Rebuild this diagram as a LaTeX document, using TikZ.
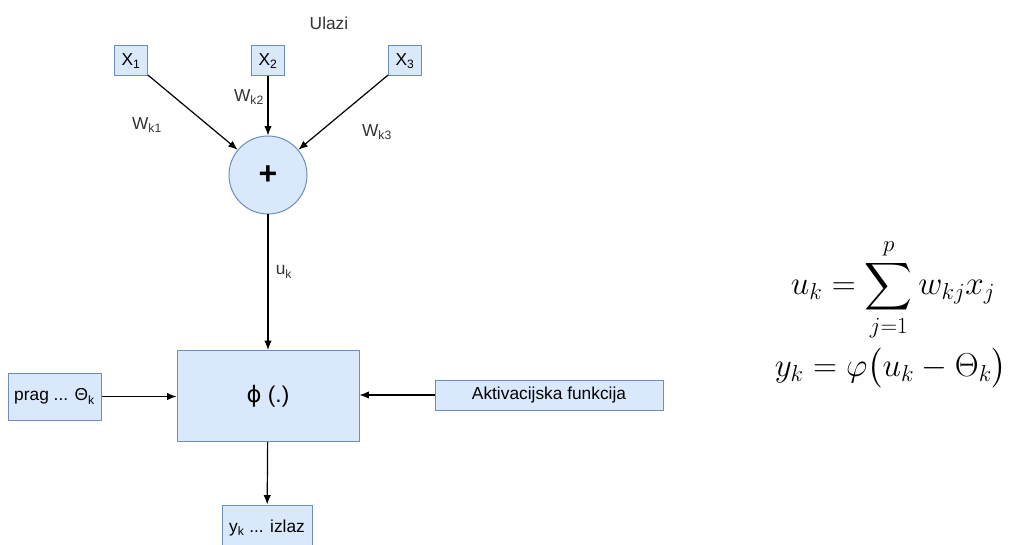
\documentclass[tikz,border=0pt]{standalone}
\usepackage{amsmath}
\usepackage{fontspec}
\setmainfont{Liberation Sans}
\newfontfamily\phifont{DejaVu Sans}
\usepackage{xcolor}
\usetikzlibrary{shapes.geometric, arrows.meta, calc, positioning}

\definecolor{boxfill}{HTML}{DAE8FC}
\definecolor{boxline}{HTML}{6C8EBF}

\begin{document}
\begin{tikzpicture}[
    x=0.75pt, y=-0.75pt,
    >={Latex[length=7pt,width=5.5pt]},
    font=\fontsize{13}{15}\selectfont,
    input/.style={rectangle, draw=boxline, fill=boxfill, line width=0.75pt, minimum width=24.75pt, minimum height=22.5pt, inner sep=0pt},
    sum/.style={circle, draw=boxline, fill=boxfill, line width=0.75pt, minimum size=58.5pt, inner sep=0pt},
    block/.style={rectangle, draw=boxline, fill=boxfill, line width=0.75pt, inner sep=0pt},
    weight/.style={inner sep=1pt, fill=white, text=black!80},
    arrow/.style={->, line width=0.9pt}
]
\useasboundingbox (0,0) rectangle (1014,545);

% ulazi
\node[text=black!80] (ulazi) at (329,23) {Ulazi};
\node[input] (x1) at (131,61) {X\textsubscript{1}};
\node[input] (x2) at (268,61) {X\textsubscript{2}};
\node[input] (x3) at (405,61) {X\textsubscript{3}};

% sumator i aktivacija
\node[sum] (sum) at (268,175) {\fontsize{24}{24}\selectfont\textbf{+}};
\node[block, minimum width=136.5pt, minimum height=68.25pt] (phi) at (268,396) {\fontsize{17}{19}\selectfont{\phifont ϕ} (.)};
\node[block, minimum width=69.75pt, minimum height=35.25pt] (prag) at (54.5,396.5) {prag ... Θ\textsubscript{k}};
\node[block, minimum width=171pt, minimum height=22.5pt] (akt) at (549,395) {Aktivacijska funkcija};
\node[block, minimum width=67.5pt, minimum height=34.5pt] (izlaz) at (267,528) {y\textsubscript{k} ... izlaz};

% tezine
\node[weight] (wk1) at (147,125) {W\textsubscript{k1}};
\node[weight] (wk2) at (249,97) {W\textsubscript{k2}};
\node[weight] (wk3) at (377,132) {W\textsubscript{k3}};
\node[weight] (uk) at (284,272) {u\textsubscript{k}};

% formule
\node (eq1) at (893,290) {\fontsize{25}{29}\selectfont$\displaystyle u_k=\sum_{j=1}^{p} w_{kj}x_j$};
\node (eq2) at (891,368) {\fontsize{25}{29}\selectfont$y_k=\varphi\bigl(u_k-\Theta_k\bigr)$};

% veze
\draw[arrow] (x1) -- (sum);
\draw[arrow] (x2) -- (sum);
\draw[arrow] (x3) -- (sum);
\draw[arrow] (sum) -- (phi);
\draw[arrow] (prag) -- (prag -| phi.west);
\draw[arrow] (akt) -- (akt -| phi.east);
\draw[arrow] (phi) -- (izlaz);

\end{tikzpicture}
\end{document}
